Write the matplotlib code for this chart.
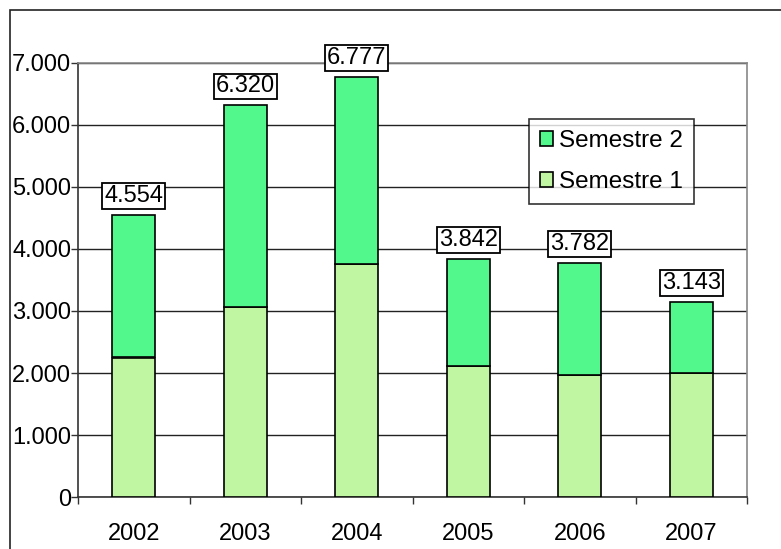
import matplotlib
matplotlib.use("Agg")
import matplotlib.pyplot as plt
import numpy as np
from matplotlib.patches import Rectangle
from matplotlib.ticker import FuncFormatter, FixedLocator

plt.rcParams['font.family'] = ['Liberation Sans', 'DejaVu Sans']

# Data
years = ['2002', '2003', '2004', '2005', '2006', '2007']
semestre1 = [2250, 3065, 3765, 2110, 1975, 2000]
totals = [4554, 6320, 6777, 3842, 3782, 3143]
semestre2 = [t - s for t, s in zip(totals, semestre1)]

col_s1 = '#C0F5A2'
col_s2 = '#52F88C'
fs = 17

fig = plt.figure(figsize=(7.81, 5.49), dpi=100)
ax = fig.add_axes([78 / 781, 1 - 497 / 549, (747 - 78) / 781, (497 - 63) / 549])

x = np.arange(len(years))
w = 0.39
ax.bar(x, semestre1, w, color=col_s1, edgecolor='black', linewidth=1.2, label='Semestre 1', zorder=3)
ax.bar(x, semestre2, w, bottom=semestre1, color=col_s2, edgecolor='black', linewidth=1.2,
       label='Semestre 2', zorder=3)

# value labels over the stacks
for xi, t in zip(x, totals):
    ax.annotate(f"{t/1000:.3f}", (xi, t), xytext=(0, 13.5), textcoords='offset points',
                ha='center', va='center', fontsize=fs,
                bbox=dict(boxstyle='square,pad=0.08', fc='white', ec='black', lw=1.3), zorder=5)

ax.set_xlim(-0.5, len(years) - 0.5)
ax.set_ylim(0, 7000)
ax.set_yticks(range(0, 7001, 1000))
ax.yaxis.set_major_formatter(FuncFormatter(lambda v, p: f"{int(v):,}".replace(',', '.')))
ax.set_xticks(x)
ax.set_xticklabels(years)
ax.xaxis.set_minor_locator(FixedLocator(np.arange(-0.5, len(years), 1.0)))
ax.tick_params(axis='x', which='major', length=0, pad=18.5, labelsize=fs)
ax.tick_params(axis='x', which='minor', length=5, width=1, color='#333333')
ax.tick_params(axis='y', length=5, width=1, color='#333333', pad=0, labelsize=fs)

ax.grid(axis='y', color='#222222', linewidth=1, zorder=0)
ax.set_axisbelow(True)
for s in ['top', 'right']:
    ax.spines[s].set_color('#888888')
    ax.spines[s].set_linewidth(1.2)
for s in ['left', 'bottom']:
    ax.spines[s].set_color('#333333')
    ax.spines[s].set_linewidth(1.2)

handles, labels = ax.get_legend_handles_labels()
leg = ax.legend(handles[::-1], labels[::-1], loc='upper left', bbox_to_anchor=(0.674, 0.871),
                fontsize=17.5, frameon=True, fancybox=False, edgecolor='black',
                handlelength=0.55, handleheight=0.55, handletextpad=0.25, borderpad=0.45,
                labelspacing=0.8, borderaxespad=0)
leg.get_frame().set_linewidth(1.2)
for h in leg.legend_handles:
    h.set_linewidth(1.2)

# outer chart frame (only top and left edge visible)
fig.patches.append(Rectangle((10 / 781, -0.1), 1.2, 1 - 10 / 549 + 0.1, transform=fig.transFigure,
                             fill=False, edgecolor='#222222', linewidth=1.2))

fig.savefig('out.png', dpi=100)
